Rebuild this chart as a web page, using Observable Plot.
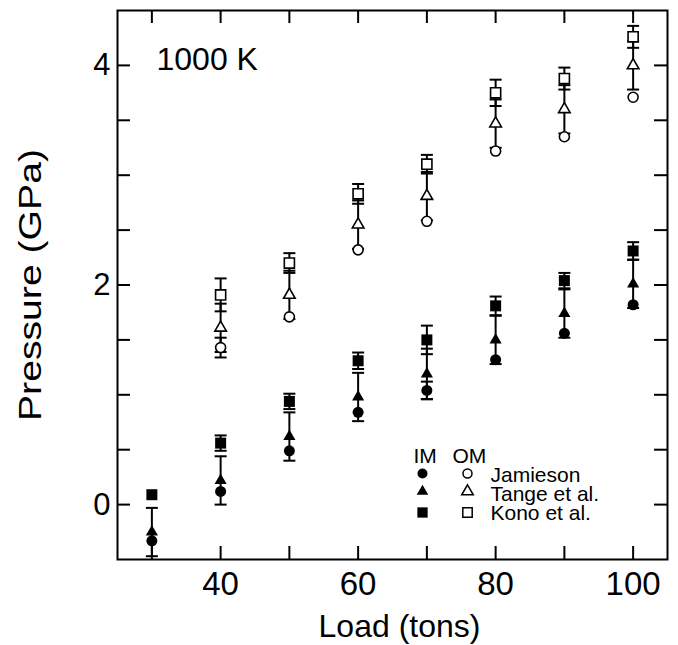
<!DOCTYPE html>
<html><head><meta charset="utf-8">
<script src="https://cdn.jsdelivr.net/npm/d3@7"></script>
<script src="https://cdn.jsdelivr.net/npm/@observablehq/plot@0.6"></script>
<style>body{margin:0;background:#fff;font-family:"Liberation Sans",Arial,sans-serif}</style>
</head><body><div id="chart"></div>
<script>
// ---- data ----
const loads = [30, 40, 50, 60, 70, 80, 90, 100];
// IM (filled symbols)
const jamiesonIM = [-0.33, 0.12, 0.49, 0.84, 1.04, 1.32, 1.56, 1.82];
const tangeIM    = [-0.25, 0.22, 0.62, 0.98, 1.19, 1.50, 1.74, 2.01];
const konoIM     = [0.09, 0.56, 0.94, 1.31, 1.50, 1.81, 2.04, 2.31];
// OM (open symbols), no OM value at 30 tons
const jamiesonOM = [null, 1.43, 1.71, 2.32, 2.58, 3.22, 3.35, 3.71];
const tangeOM    = [null, 1.61, 1.91, 2.55, 2.81, 3.47, 3.60, 4.00];
const konoOM     = [null, 1.91, 2.20, 2.83, 3.10, 3.75, 3.88, 4.26];
// error bar half-widths (GPa)
const jamiesonIMErr = [0, 0, 0, 0, 0.08, 0, 0, 0];
const tangeIMErr    = [0.22, 0.22, 0.22, 0.22, 0.23, 0.22, 0.22, 0.22];
const konoIMErr     = [0, 0.07, 0.07, 0.075, 0.13, 0.085, 0.07, 0.08];
const jamiesonOMErr = [null, 0.09, 0, 0, 0, 0, 0, 0];
const tangeOMErr    = [null, 0.22, 0.22, 0.22, 0.22, 0.22, 0.22, 0.22];
const konoOMErr     = [null, 0.15, 0.09, 0.09, 0.085, 0.12, 0.10, 0.10];

const xTicks = [30, 40, 50, 60, 70, 80, 90, 100];
const xTickLabels = [40, 60, 80, 100];
const yTicks = [0, 0.5, 1, 1.5, 2, 2.5, 3, 3.5, 4];
const yTickLabels = [0, 2, 4];
const seriesNames = ["Jamieson", "Tange et al.", "Kono et al."];
const symbolsBySeries = ["circle", "triangle", "square"];
const groupNames = ["IM", "OM"];

// ---- build rows ----
function rows(values, errs, series, group) {
  return loads.map((load, i) => ({load, p: values[i], err: errs[i], series, group}))
    .filter(d => d.p != null);
}
const all = [
  ...rows(jamiesonIM, jamiesonIMErr, 0, "IM"),
  ...rows(tangeIM, tangeIMErr, 1, "IM"),
  ...rows(konoIM, konoIMErr, 2, "IM"),
  ...rows(jamiesonOM, jamiesonOMErr, 0, "OM"),
  ...rows(tangeOM, tangeOMErr, 1, "OM"),
  ...rows(konoOM, konoOMErr, 2, "OM")
];
const withErr = all.filter(d => d.err > 0);

const capSymbol = {draw(ctx, size) { const w = Math.sqrt(size / Math.PI); ctx.moveTo(-w, 0); ctx.lineTo(w, 0); }};

const W = 678, H = 645, mL = 117, mR = 11, mT = 10, mB = 86;
const FW = W - mL - mR, FH = H - mT - mB, TL = 13;
const font = "Liberation Sans, Arial, sans-serif";
const rBy = {filled: [5.5, 4.5, 6.2], open: [5, 4.3, 5.7]};

function markerMarks(data, open) {
  return [0, 1, 2].map(s => Plot.dot(data.filter(d => d.series === s), {
    x: "load", y: "p", symbol: symbolsBySeries[s], r: (open ? rBy.open : rBy.filled)[s],
    fill: open ? "white" : "black", stroke: open ? "black" : "none", strokeWidth: 1.6
  }));
}

// legend marks
const legendRowsDy = [463, 481, 502];
const legendMarks = [];
groupNames.forEach((g, gi) => {
  legendMarks.push(Plot.text([g], {frameAnchor: "top-left", dx: [296, 335][gi], dy: 452, text: d => d,
    textAnchor: "start", lineAnchor: "bottom", fontSize: 21, fill: "black"}));
  [0, 1, 2].forEach(s => legendMarks.push(Plot.dot([0], {frameAnchor: "top-left", dx: [305, 350][gi], dy: legendRowsDy[s],
    symbol: symbolsBySeries[s], r: (gi ? [4.5, 4.3, 5.3] : [5, 4.3, 5.8])[s],
    fill: gi ? "white" : "black", stroke: gi ? "black" : "none", strokeWidth: 1.5})));
});
seriesNames.forEach((name, s) => legendMarks.push(Plot.text([name], {frameAnchor: "top-left", dx: 373, dy: [471, 490, 509][s],
  text: d => d, textAnchor: "start", lineAnchor: "bottom", fontSize: 21, fill: "black"})));

const chart = Plot.plot({
  width: W, height: H, marginLeft: mL, marginRight: mR, marginTop: mT, marginBottom: mB,
  style: {fontFamily: font, color: "black", background: "white"},
  x: {domain: [25, 105], axis: null},
  y: {domain: [-0.5, 4.5], axis: null},
  marks: [
    // inward ticks on all sides
    Plot.ruleX(xTicks, {x: d => d, insetTop: FH - TL, strokeWidth: 2}),
    Plot.ruleX(xTicks, {x: d => d, insetBottom: FH - TL, strokeWidth: 2}),
    Plot.ruleY(yTicks, {y: d => d, insetRight: FW - TL, strokeWidth: 2}),
    Plot.ruleY(yTicks, {y: d => d, insetLeft: FW - TL, strokeWidth: 2}),
    Plot.axisX(xTickLabels, {anchor: "bottom", label: null, tickSize: 0, tickPadding: 12, fontSize: 33, tickFormat: d => d, fill: "black"}),
    Plot.axisY(yTickLabels, {anchor: "left", label: null, tickSize: 0, tickPadding: 7, fontSize: 31, tickFormat: d => d, fill: "black"}),
    Plot.text(["Load (tons)"], {frameAnchor: "bottom", dx: 7, dy: 77, lineAnchor: "bottom", fontSize: 32, text: d => d, fill: "black"}),
    Plot.text(["Pressure (GPa)"], {frameAnchor: "left", dx: -86, rotate: -90, textAnchor: "middle", fontSize: 31, text: d => d, fill: "black", className: "ylabel"}),
    Plot.text(["1000 K"], {frameAnchor: "top-left", dx: 39, dy: 59, textAnchor: "start", lineAnchor: "bottom", fontSize: 32, text: d => d, fill: "black"}),
    // error bars
    Plot.ruleX(withErr, {x: "load", y1: d => d.p - d.err, y2: d => d.p + d.err, strokeWidth: 2, clip: true}),
    Plot.dot(withErr, {x: "load", y: d => d.p + d.err, symbol: capSymbol, r: 6, stroke: "black", fill: "none", strokeWidth: 2, clip: true}),
    Plot.dot(withErr, {x: "load", y: d => d.p - d.err, symbol: capSymbol, r: 6, stroke: "black", fill: "none", strokeWidth: 2, clip: true}),
    ...markerMarks(all.filter(d => d.group === "IM"), false),
    ...markerMarks(all.filter(d => d.group === "OM"), true),
    ...legendMarks,
    Plot.frame({stroke: "black", strokeWidth: 2})
  ]
});
// the reference's rotated axis title is drawn elongated along its baseline
d3.select(chart).selectAll(".ylabel text").attr("textLength", 272).attr("lengthAdjust", "spacingAndGlyphs");
document.getElementById("chart").appendChild(chart);
</script>
</body></html>
